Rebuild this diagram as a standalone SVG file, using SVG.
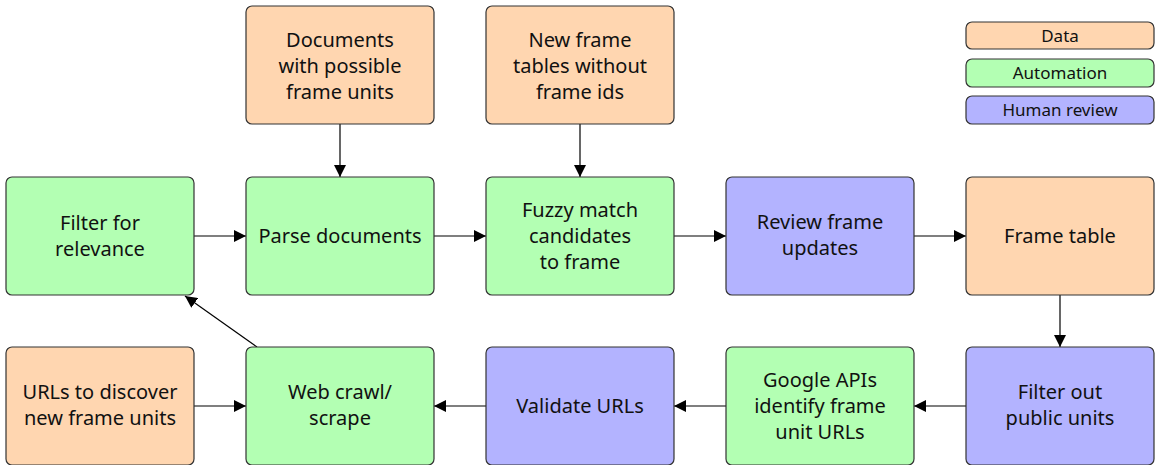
<svg xmlns="http://www.w3.org/2000/svg" width="1158" height="465" viewBox="0 0 1158 465">
<defs>
<marker id="ah" viewBox="0 0 10 10" refX="10" refY="5" markerWidth="12" markerHeight="12" markerUnits="userSpaceOnUse" orient="auto">
<path d="M0,0 L10,5 L0,10 z" fill="#000"/>
</marker>
<style>
.n rect{stroke:#333;stroke-width:1.2}
.data rect{fill:#ffd6b0}
.auto rect{fill:#b3ffb3}
.human rect{fill:#b3b3ff}
text{font-family:"Noto Sans","Open Sans","DejaVu Sans",sans-serif;font-size:20px;fill:#111;text-anchor:middle}
.lg text{font-size:17px}
.c line{stroke:#000;stroke-width:1.2;marker-end:url(#ah)}
</style>
</defs>
<rect width="1158" height="465" fill="#fff"/>
<g class="c">
<line x1="194" y1="236" x2="246" y2="236"/>
<line x1="434" y1="236" x2="486" y2="236"/>
<line x1="674" y1="236" x2="726" y2="236"/>
<line x1="914" y1="236" x2="966" y2="236"/>
<line x1="340" y1="124" x2="340" y2="177"/>
<line x1="580" y1="124" x2="580" y2="177"/>
<line x1="1060" y1="295" x2="1060" y2="347"/>
<line x1="966" y1="406" x2="914" y2="406"/>
<line x1="726" y1="406" x2="674" y2="406"/>
<line x1="486" y1="406" x2="434" y2="406"/>
<line x1="194" y1="406" x2="246" y2="406"/>
<line x1="257" y1="347" x2="185" y2="296"/>
</g>
<g id="docs" class="n data"><rect x="246" y="6" width="188" height="118" rx="6"/><text x="340" y="47">Documents</text><text x="340" y="73">with possible</text><text x="340" y="99">frame units</text></g>
<g id="newframe" class="n data"><rect x="486" y="6" width="188" height="118" rx="6"/><text x="580" y="47">New frame</text><text x="580" y="73">tables without</text><text x="580" y="99">frame ids</text></g>
<g id="filter" class="n auto"><rect x="6" y="177" width="188" height="118" rx="6"/><text x="100" y="230">Filter for</text><text x="100" y="256">relevance</text></g>
<g id="parse" class="n auto"><rect x="246" y="177" width="188" height="118" rx="6"/><text x="340" y="243">Parse documents</text></g>
<g id="fuzzy" class="n auto"><rect x="486" y="177" width="188" height="118" rx="6"/><text x="580" y="217">Fuzzy match</text><text x="580" y="243">candidates</text><text x="580" y="269">to frame</text></g>
<g id="review" class="n human"><rect x="726" y="177" width="188" height="118" rx="6"/><text x="820" y="229">Review frame</text><text x="820" y="255">updates</text></g>
<g id="frametable" class="n data"><rect x="966" y="177" width="188" height="118" rx="6"/><text x="1060" y="243">Frame table</text></g>
<g id="urls" class="n data"><rect x="6" y="347" width="188" height="118" rx="6"/><text x="100" y="399">URLs to discover</text><text x="100" y="425">new frame units</text></g>
<g id="crawl" class="n auto"><rect x="246" y="347" width="188" height="118" rx="6"/><text x="340" y="399">Web crawl/</text><text x="340" y="425">scrape</text></g>
<g id="validate" class="n human"><rect x="486" y="347" width="188" height="118" rx="6"/><text x="580" y="413">Validate URLs</text></g>
<g id="google" class="n auto"><rect x="726" y="347" width="188" height="118" rx="6"/><text x="820" y="387">Google APIs</text><text x="820" y="413">identify frame</text><text x="820" y="439">unit URLs</text></g>
<g id="filterout" class="n human"><rect x="966" y="347" width="188" height="118" rx="6"/><text x="1060" y="399">Filter out</text><text x="1060" y="425">public units</text></g>
<g id="legend" class="lg">
<g class="n data"><rect x="966" y="22" width="188" height="27" rx="6"/><text x="1060" y="42">Data</text></g>
<g class="n auto"><rect x="966" y="59" width="188" height="28" rx="6"/><text x="1060" y="79">Automation</text></g>
<g class="n human"><rect x="966" y="96" width="188" height="28" rx="6"/><text x="1060" y="116">Human review</text></g>
</g>
</svg>
